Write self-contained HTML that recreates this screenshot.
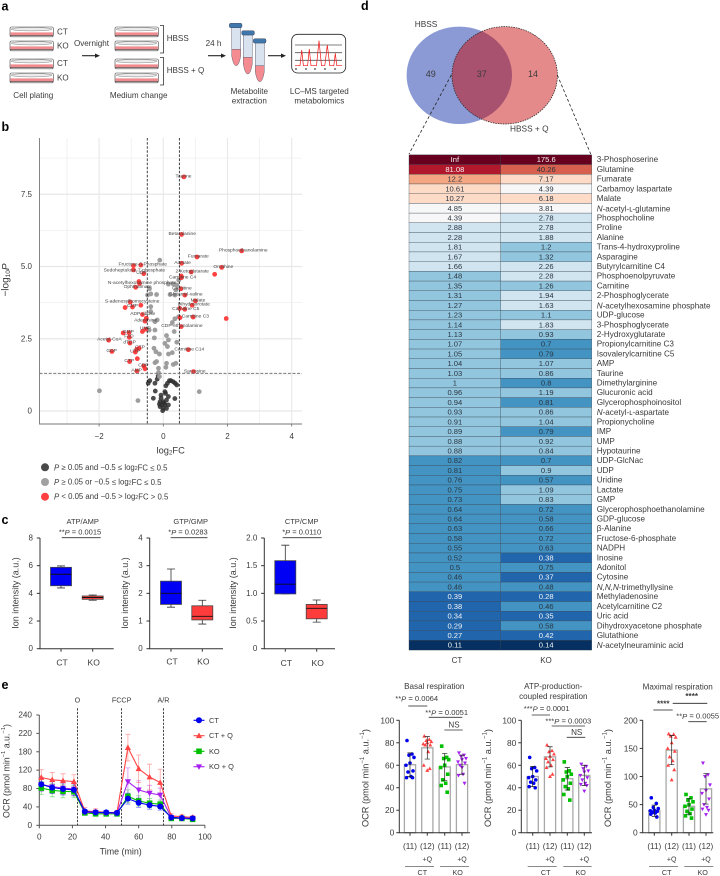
<!DOCTYPE html>
<html lang="en">
<head>
<meta charset="utf-8">
<title>Metabolomics figure</title>
<style>
html,body{margin:0;padding:0;background:#fff;}
svg{display:block;font-family:"Liberation Sans",sans-serif;}
text{dominant-baseline:central;fill:#3a3a3a;}
.b{font-weight:bold;font-size:12.5px;fill:#000;}
.t{font-size:8.1px;}
.l{font-size:7.8px;}
.h{font-size:7.5px;}
.p{font-size:7.6px;}
.c{text-anchor:middle;}
</style>
</head>
<body>
<svg id="fig" xmlns="http://www.w3.org/2000/svg" width="720" height="876" viewBox="0 0 720 876">
<rect width="720" height="876" fill="#fff"/>

<text class="b" x="1.5" y="6.5">a</text>
<text class="b" x="1.5" y="127">b</text>
<text class="b" x="1.5" y="520">c</text>
<text class="b" x="361" y="6">d</text>
<text class="b" x="1.5" y="685">e</text>

<g id="panelA">
  <text class="t" x="57" y="32">CT</text>
  <text class="t" x="57" y="46">KO</text>
  <text class="t" x="57" y="63.5">CT</text>
  <text class="t" x="57" y="78">KO</text>
  <text class="t c" x="91.5" y="43.7">Overnight</text>
  <path d="M82 55.7H97" stroke="#222" stroke-width="1.1"/>
  <path d="M95 53.5L100 55.7L95 57.9Z" fill="#222"/>
  <path d="M160 25.5H163.5V53H160M160 57.5H163.5V85H160" fill="none" stroke="#333" stroke-width=".8"/>
  <text class="t" x="166.7" y="38.3">HBSS</text>
  <text class="t" x="166.7" y="70.3">HBSS + Q</text>
  <text class="t c" x="213.5" y="43.7">24 h</text>
  <path d="M208 55.7H223" stroke="#222" stroke-width="1.1"/>
  <path d="M221 53.5L226 55.7L221 57.9Z" fill="#222"/>
  <path d="M268 55.7H283" stroke="#222" stroke-width="1.1"/>
  <path d="M281 53.5L286 55.7L281 57.9Z" fill="#222"/>

  <g>
    <path d="M231.7 26H240.7V49.3H231.7Z" fill="#d9e3f0" stroke="#667" stroke-width=".5"/>
    <path d="M231.7 49.3H240.7V56Q239 65.7 236.2 65.7Q233.4 65.7 231.7 56Z" fill="#f48b90" stroke="#667" stroke-width=".5"/>
    <rect x="229.3" y="23.3" width="12.7" height="4.4" rx="1.5" fill="#3f77ad" stroke="#334" stroke-width=".4"/>
  </g>
  <g>
    <path d="M243.3 33H252.3V57.3H243.3Z" fill="#d9e3f0" stroke="#667" stroke-width=".5"/>
    <path d="M243.3 57.3H252.3V64Q250.6 74 247.8 74Q245 74 243.3 64Z" fill="#f48b90" stroke="#667" stroke-width=".5"/>
    <rect x="241.7" y="30.7" width="12.7" height="4.4" rx="1.5" fill="#3f77ad" stroke="#334" stroke-width=".4"/>
  </g>
  <g>
    <path d="M255.3 41H264.3V65.7H255.3Z" fill="#d9e3f0" stroke="#667" stroke-width=".5"/>
    <path d="M255.3 65.7H264.3V72Q262.6 81.7 259.8 81.7Q257 81.7 255.3 72Z" fill="#f48b90" stroke="#667" stroke-width=".5"/>
    <rect x="253.3" y="38.7" width="12.7" height="4.4" rx="1.5" fill="#3f77ad" stroke="#334" stroke-width=".4"/>
  </g>

  <g>
    <rect x="291.7" y="34.3" width="54" height="38.7" rx="6" fill="#fff" stroke="#222" stroke-width=".8"/>
    <path d="M295 45H342M295 52.7H342M295 60.3H342" stroke="#555" stroke-width=".8"/>
    <path d="M295 65.7H300L301.7 50L303.4 65.7H307.6L309.3 49L311 65.7H316.5L319 40.7L321.5 65.7H324.8L327.3 45L329.8 65.7H333.8L335.3 53.3L336.8 65.7H342" fill="none" stroke="#f01818" stroke-width=".7"/>
    <path d="M295 69H297M305 69H307M314 69H316M324 69H326M334 69H336" stroke="#222" stroke-width=".9"/>
  </g>

  <text class="t c" x="33.3" y="95.7">Cell plating</text>
  <text class="t c" x="138.7" y="95.7">Medium change</text>
  <text class="t c" x="249.3" y="91.7">Metabolite</text>
  <text class="t c" x="249.3" y="101">extraction</text>
  <text class="t c" x="319.3" y="91.7">LC–MS targeted</text>
  <text class="t c" x="319.3" y="101">metabolomics</text>
</g>

<g>
  <text class="c" font-size="10" transform="translate(6 280) rotate(-90)">−log<tspan font-size="6.5" dy="2">10</tspan><tspan font-style="italic" dy="-2">P</tspan></text>
  <text class="c" font-size="9.3" x="170.7" y="450.7">log<tspan font-size="6.2" dy="2">2</tspan><tspan dy="-2">FC</tspan></text>
  <circle cx="45" cy="467.3" r="4" fill="#4a4a4a"/>
  <text class="l" x="54" y="467.3"><tspan font-style="italic">P</tspan> ≥ 0.05 and −0.5 ≤ log<tspan font-size="5.2" dy="1.5">2</tspan><tspan dy="-1.5">FC ≤ 0.5</tspan></text>
  <circle cx="45" cy="482" r="4" fill="#a0a0a0"/>
  <text class="l" x="54" y="482"><tspan font-style="italic">P</tspan> ≥ 0.05 or −0.5 ≤ log<tspan font-size="5.2" dy="1.5">2</tspan><tspan dy="-1.5">FC ≤ 0.5</tspan></text>
  <circle cx="45" cy="496.7" r="4" fill="#ff4040"/>
  <text class="l" x="54" y="496.7"><tspan font-style="italic">P</tspan> &lt; 0.05 and −0.5 &gt; log<tspan font-size="5.2" dy="1.5">2</tspan><tspan dy="-1.5">FC &gt; 0.5</tspan></text>
</g>

<g>
  <text class="h c" x="82.7" y="521.7">ATP/AMP</text>
  <text class="h c" x="80" y="532">**<tspan font-style="italic">P</tspan> = 0.0015</text>
  <path d="M61.7 537.7H100.7" stroke="#333" stroke-width=".8"/>
  <text class="h c" x="190.7" y="521.7">GTP/GMP</text>
  <text class="h c" x="188" y="532">*<tspan font-style="italic">P</tspan> = 0.0283</text>
  <path d="M170.7 537.7H207.5" stroke="#333" stroke-width=".8"/>
  <text class="h c" x="301.7" y="521.7">CTP/CMP</text>
  <text class="h c" x="301.7" y="532">*<tspan font-style="italic">P</tspan> = 0.0110</text>
  <path d="M282.7 537.7H321.7" stroke="#333" stroke-width=".8"/>
  <text class="c" font-size="9" transform="translate(15.7 593) rotate(-90)">Ion intensity (a.u.)</text>
  <text class="c" font-size="9" transform="translate(125 593) rotate(-90)">Ion intensity (a.u.)</text>
  <text class="c" font-size="9" transform="translate(233 593) rotate(-90)">Ion intensity (a.u.)</text>
</g>

<g>
  <ellipse cx="459.3" cy="75.3" rx="52.7" ry="48.7" fill="#8b9ad4"/>
  <ellipse cx="504.7" cy="75.3" rx="52.7" ry="48.7" fill="#e58a8a"/>
  <clipPath id="vennClip"><ellipse cx="459.3" cy="75.3" rx="52.7" ry="48.7"/></clipPath>
  <ellipse cx="504.7" cy="75.3" rx="52.7" ry="48.7" fill="#a95270" clip-path="url(#vennClip)"/>
  <ellipse cx="504.7" cy="75.3" rx="52.7" ry="48.7" fill="none" stroke="#222" stroke-width=".7" stroke-dasharray="1.5 1"/>
  <text class="c" font-size="8.3" x="426" y="24">HBSS</text>
  <text class="c" font-size="9" x="430.7" y="74">49</text>
  <text class="c" font-size="9" x="481.7" y="74">37</text>
  <text class="c" font-size="9" x="533" y="74">14</text>
  <text class="c" font-size="8.3" x="529.3" y="128.3">HBSS + Q</text>
  <path d="M451.3 75L409 154M557.3 75L590.7 154" stroke="#222" stroke-width=".8" stroke-dasharray="3 2.2" fill="none"/>
</g>

<g>
  <text class="t c" x="434.3" y="686.7">Basal respiration</text>
  <text class="p c" x="416.7" y="698.3">**<tspan font-style="italic">P</tspan> = 0.0064</text>
  <path d="M408.3 706H427.3" stroke="#555"/>
  <text class="p c" x="446.7" y="712.7">**<tspan font-style="italic">P</tspan> = 0.0051</text>
  <path d="M428.7 717.3H462.3" stroke="#333" stroke-width=".8"/>
  <text class="t c" x="454" y="725">NS</text>
  <path d="M444.3 730H462.7" stroke="#333" stroke-width=".8"/>

  <text class="t c" x="553.3" y="686.7">ATP-production-</text>
  <text class="t c" x="553.3" y="696.7">coupled respiration</text>
  <text class="p c" x="546.7" y="708.3">***<tspan font-style="italic">P</tspan> = 0.0001</text>
  <path d="M531.7 715H550" stroke="#333" stroke-width=".8"/>
  <text class="p c" x="568.3" y="721">***<tspan font-style="italic">P</tspan> = 0.0003</text>
  <path d="M551.7 726H585" stroke="#333" stroke-width=".8"/>
  <text class="t c" x="576.7" y="732.3">NS</text>
  <path d="M566.7 737.3H585.3" stroke="#333" stroke-width=".8"/>

  <text class="t c" x="677.7" y="687">Maximal respiration</text>
  <text class="t c" x="691.7" y="696.7" font-weight="bold">****</text>
  <path d="M672.7 703.3H707.3" stroke="#222" stroke-width=".8"/>
  <text class="t c" x="663.3" y="704" font-weight="bold">****</text>
  <path d="M653.3 710H672.7" stroke="#555"/>
  <text class="p c" x="697.7" y="716">**<tspan font-style="italic">P</tspan> = 0.0055</text>
  <path d="M688.3 721.7H706.7" stroke="#333" stroke-width=".8"/>

  <text class="c" font-size="9.2" transform="translate(365.7 778) rotate(-90)">OCR (pmol min<tspan font-size="6" dy="-2.5">−1</tspan><tspan dy="2.5"> a.u.</tspan><tspan font-size="6" dy="-2.5">−1</tspan><tspan dy="2.5">)</tspan></text>
  <text class="c" font-size="9.2" transform="translate(488 778) rotate(-90)">OCR (pmol min<tspan font-size="6" dy="-2.5">−1</tspan><tspan dy="2.5"> a.u.</tspan><tspan font-size="6" dy="-2.5">−1</tspan><tspan dy="2.5">)</tspan></text>
  <text class="c" font-size="9.2" transform="translate(608 778) rotate(-90)">OCR (pmol min<tspan font-size="6" dy="-2.5">−1</tspan><tspan dy="2.5"> a.u.</tspan><tspan font-size="6" dy="-2.5">−1</tspan><tspan dy="2.5">)</tspan></text>
  <text class="c" font-size="8.8" transform="translate(6.5 771) rotate(-90)">OCR (pmol min<tspan font-size="5.8" dy="-2.5">−1</tspan><tspan dy="2.5"> a.u.</tspan><tspan font-size="5.8" dy="-2.5">−1</tspan><tspan dy="2.5">)</tspan></text>
  <text class="c" font-size="8.9" x="120.7" y="851.7">Time (min)</text>
</g>
</svg>

<script>
// ---------- volcano data ----------
const redFC = [.64,.57,2.44,1.05,.57,1.82,.87,1.6,.56,.56,.55,.67,1.0,.9,.67,.51,.93,.52,1.96,.56,.78,.94,-.93,-.7,-.93,-.61,-.76,-.74,-.86,-1.03,-.7,-.96,-1.19,-.65,-.53,-.57,-.55,-.65,-1.07,-1.25,-1.06,-1.7,-1.04,-.75,-.83,-.87,-1.6,-.81,-1.05,-.61,-.57,-.82];
const redP = [8.1,6.11,5.54,5.33,5.11,4.97,4.81,4.73,4.67,4.61,4.23,4.01,3.81,3.66,3.52,3.55,3.25,3.23,3.2,2.92,2.12,1.36,5.03,5.05,4.88,4.75,4.48,4.41,4.28,3.77,3.66,3.6,3.58,3.34,3.21,3.11,2.83,2.75,2.71,2.7,2.55,2.45,2.35,2.17,2.13,2.04,2.06,1.81,1.71,1.56,1.46,1.38];
const grayFC = [-.11,-.43,-.49,-.39,-.21,.21,.36,.16,.31,.42,.48,.39,-.39,-.39,-.19,-.26,.28,.36,.48,-.44,-.26,.34,-.28,.1,.16,.42,.05,.13,-.29,-.23,-.12,.16,.28,-.21,-.26,.1,.31,.39,.08,-.15,-.15,-.12,-1.99,1.12,-.79];
const grayP = [5.22,4.23,4.01,4.05,4.03,4.03,4.01,4.39,4.39,4.36,4.53,4.19,3.61,3.44,3.15,3.09,3.06,3.19,3.26,2.8,2.8,2.75,2.53,2.61,2.46,2.38,2.34,2.23,2.17,2.05,1.97,1.97,2.02,1.71,1.67,1.65,1.61,1.65,1.51,1.48,1.33,1.19,.7,.67,.36];
const blackFC = [-.16,-.19,-.42,-.47,-.26,.19,.31,.08,.42,-.25,.05,-.07,.07,-.31,.16,.36,-.1,0,.1,-.12,-.05,.05,.16,-.1,0,.1,-.02,.03,-.07,.24,.37,.13];
const blackP = [1.21,1.1,1.05,.96,.96,1.05,1.01,.87,.9,.69,.67,.55,.61,.44,.5,.43,.32,.32,.38,.24,.21,.21,.21,.15,.09,.09,.01,.27,.44,1.05,.96,.96];
const volcanoNames = ['Taurine','Beta-alanine','Phosphoethanolamine','Fumarate','Acetate','Ornithine','2-Ketoglutarate','Carnitine C4','Carnitine','Glutamyl-valine','Malate','Dihydroorotate','Carnitine C5','Carnitine C3','CDP-ethanolamine','Carnitine C14','Sarcosine','Fructose-6-Phosphate','Sedoheptulose-7-phosphate','UDP','N-acetylhexosamine phosphate','Ophthalmate','S-adenosylhomocysteine','CMP','ADP-ribose','Adenosine','UMP','GMP','FAD','dTDP','Acetyl-CoA','GTP','UTP','GDP','CTP','CDP','AMP'];
const volcanoLabelFC = [.63,.59,2.49,1.09,.6,1.87,.9,.6,.58,.7,1.08,.95,.7,1.0,.58,.81,.98,-.64,-.9,-.68,-.66,-.8,-.97,-.96,-.64,-.55,-.56,-1.09,-1.07,-1.05,-1.68,-.73,-.88,-1.61,-1.06,-.62,-.83];
const volcanoLabelP = [8.1,6.11,5.54,5.33,5.11,4.96,4.81,4.61,4.23,4.01,3.81,3.66,3.52,3.25,2.92,2.11,1.35,5.05,4.85,4.75,4.41,4.27,3.77,3.62,3.34,3.11,2.83,2.71,2.56,2.35,2.45,2.18,2.04,2.06,1.71,1.56,1.38];
const volcanoXTicks = [-2,0,2,4];
const volcanoXMinor = [-3,-1,1,3];
const volcanoYTicks = [0,2.5,5,7.5];
const volcanoYTickLabels = ['0','2.5','5.0','7.5'];
const volcanoYMinor = [1.25,3.75,6.25,8.75];

// ---------- box plot data (CT, KO) ----------
const boxCategories = ['CT','KO'];
const atpQ1 = [4.55,3.57], atpMed = [5.38,3.7], atpQ3 = [5.88,3.81], atpHi = [5.98,3.88], atpLo = [4.39,3.5];
const gtpQ1 = [1.6,1.04], gtpMed = [2.0,1.17], gtpQ3 = [2.44,1.55], gtpHi = [2.88,1.75], gtpLo = [1.5,.89];
const ctpQ1 = [.99,.54], ctpMed = [1.165,.73], ctpQ3 = [1.59,.80], ctpHi = [1.87,.88], ctpLo = [.99,.48];
const atpTicks = [0,2,4,6,8];
const gtpTicks = [0,1,2,3,4];
const ctpTicks = ['0','0.5','1.0','1.5','2.0'];

// ---------- heatmap data ----------
const metaboliteNames = ['3-Phosphoserine','Glutamine','Fumarate','Carbamoy laspartate','Malate','N-acetyl-ʟ-glutamine','Phosphocholine','Proline','Alanine','Trans-4-hydroxyproline','Asparagine','Butyrylcarnitine C4','Phosphoenolpyruvate','Carnitine','2-Phosphoglycerate','N-acetylhexosamine phosphate','UDP-glucose','3-Phosphoglycerate','2-Hydroxyglutarate','Propionylcarnitine C3','Isovalerylcarnitine C5','AMP','Taurine','Dimethylarginine','Glucuronic acid','Glycerophosphoinositol','N-acetyl-ʟ-aspartate','Propionycholine','IMP','UMP','Hypotaurine','UDP-GlcNac','UDP','Uridine','Lactate','GMP','Glycerophosphoethanolamine','GDP-glucose','β-Alanine','Fructose-6-phosphate','NADPH','Inosine','Adonitol','Cytosine','N,N,N-trimethyllysine','Methyladenosine','Acetylcarnitine C2','Uric acid','Dihydroxyacetone phosphate','Glutathione','N-acetylneuraminic acid'];
const heatCT = ['Inf','81.08','12.2','10.61','10.27','4.85','4.39','2.88','2.28','1.81','1.67','1.66','1.48','1.35','1.31','1.27','1.23','1.14','1.13','1.07','1.05','1.04','1.03','1','0.96','0.94','0.93','0.91','0.89','0.88','0.88','0.82','0.81','0.76','0.75','0.73','0.64','0.64','0.63','0.58','0.55','0.52','0.5','0.46','0.46','0.39','0.38','0.34','0.29','0.27','0.11'];
const heatKO = ['175.6','40.26','7.17','4.39','6.18','3.81','2.78','2.78','1.88','1.2','1.32','2.26','2.28','1.26','1.94','1.63','1.1','1.83','0.93','0.7','0.79','1.07','0.86','0.8','1.19','0.81','0.86','1.04','0.79','0.92','0.84','0.7','0.9','0.57','1.09','0.83','0.72','0.58','0.66','0.72','0.63','0.38','0.75','0.37','0.48','0.28','0.46','0.35','0.58','0.42','0.14'];

// ---------- seahorse data ----------
const timeMin = [1.2,7.8,14.3,20.9,27.5,34,40.4,46.9,53.5,60,66.6,73,79.7,86.1,92.6];
const ocrCT = [89,82,79,77,30,28,28,27,58,49,44,41,17,16,15];
const ocrCTQ = [104,99,97,95,31,30,28,28,169,123,105,93,20,19,17];
const ocrKO = [81,76,74,73,27,25,25,25,63,53,48,46,15,15,13];
const ocrKOQ = [89,84,81,79,28,28,27,26,95,77,70,66,17,15,15];
const errCT = [13,13,13,13,4,4,3,3,12,10,9,8,4,3,3];
const errCTQ = [17,16,15,15,8,6,4,4,29,30,28,29,5,4,4];
const errKO = [14,14,14,13,4,4,3,3,14,11,10,9,3,3,3];
const errKOQ = [15,14,14,14,5,5,3,3,30,20,17,15,4,3,3];
const ocrYTicks = [0,40,80,120,160,200,240];
const ocrYTickLabels = ['0','40','80','120','180','220','240'];
const ocrXTicks = [0,20,40,60,80,100];
const injectionTimes = [23,49.7,75];
const injectionNames = ['O','FCCP','A/R'];
const ocrSeriesNames = ['CT','CT + Q','KO','KO + Q'];

// ---------- respiration bars ----------
const barCounts = ['(11)','(12)','(11)','(12)'];
const basalMean = [60.5,75.5,58.5,60.5], basalSD = [10.5,10,12,8.5];
const basalCT = [82,70,69,67,62,60,55,54,50,49,49];
const basalCTQ = [86,83,82,81,80,79,78,78,72,60,57,55.5];
const basalKO = [77,67,66,65,60,58,52,47,44,42,36];
const basalKOQ = [71,69,68,66,65,63,62,60,52,51,44,58];
const atpMean = [50,67.5,48,51], atpSD = [9,9,10,9];
const atpCT = [67,58,57,55,50,49,47,45,44,41,40];
const atpCTQ = [78,73,72,70,68,66,65,63,60,58,52,50];
const atpKO = [63,55,54,52,50,47,44,41,39,34,29];
const atpKOQ = [61,59,57,55,54,51,49,47,44,43,42,37];
const maxMean = [39,147,47,78], maxSD = [10,26,14,27];
const maxCT = [62,52,45,43,40,39,38,36,35,33,28];
const maxCTQ = [176,175,172,170,160,150,145,135,128,120,112,94];
const maxKO = [68,62,58,55,50,47,42,38,34,30,26];
const maxKOQ = [124,103,100,85,75,70,60,50,45,42,40,32];
const pctTicks = [0,20,40,60,80,100];
const maxTicks = [0,50,100,150,200];

// ---------- helpers ----------
const svg = document.getElementById('fig');
const NS = 'http://www.w3.org/2000/svg';
function add(parent, tag, attrs) {
  const e = document.createElementNS(NS, tag);
  for (const k in attrs) e.setAttribute(k, attrs[k]);
  parent.appendChild(e);
  return e;
}
function line(parent, x1, y1, x2, y2, stroke, w, dash) {
  const a = {x1:x1, y1:y1, x2:x2, y2:y2, stroke:stroke, 'stroke-width':w};
  if (dash) a['stroke-dasharray'] = dash;
  return add(parent, 'line', a);
}
function label(parent, x, y, s, size, anchor, fill) {
  const e = add(parent, 'text', {x:x, y:y, 'font-size':size, 'text-anchor':anchor || 'start'});
  if (fill) e.style.fill = fill;
  e.textContent = s;
  return e;
}
function marker(parent, shape, x, y, r, fill, op) {
  let e;
  if (shape === 'circle') e = add(parent, 'circle', {cx:x, cy:y, r:r, fill:fill});
  else if (shape === 'square') e = add(parent, 'rect', {x:x-r, y:y-r, width:2*r, height:2*r, fill:fill});
  else if (shape === 'up') e = add(parent, 'polygon', {points:`${x},${y-r*1.15} ${x+r*1.1},${y+r*.85} ${x-r*1.1},${y+r*.85}`, fill:fill});
  else e = add(parent, 'polygon', {points:`${x},${y+r*1.15} ${x+r*1.1},${y-r*.85} ${x-r*1.1},${y-r*.85}`, fill:fill});
  if (op) e.setAttribute('opacity', op);
  return e;
}

// ---------- volcano ----------
(function () {
  const vx = v => 163.3 + 32.1 * v;
  const vy = p => 411 - 28.9 * p;
  const g = add(svg, 'g', {});
  
  
  volcanoXMinor.forEach(v => {
    const l = line(g, vx(v), 138, vx(v), 424, '#efefef', .8);
    
    
  });
  volcanoXTicks.forEach(v => {
    const l = line(g, vx(v), 138, vx(v), 424, '#e8e8e8', 1.1);
    
    
    const t = line(g, vx(v), 424, vx(v), 426.5, '#666', .8);
    
    
    const s = label(g, vx(v), 436.7, (v < 0 ? '−' : '') + Math.abs(v), 8, 'middle');
    
    
  });
  volcanoYMinor.forEach(v => {
    const l = line(g, 39.5, vy(v), 302, vy(v), '#efefef', .8);
    
    
  });
  volcanoYTicks.forEach((v, i) => {
    const l = line(g, 39.5, vy(v), 302, vy(v), '#e8e8e8', 1.2);
    
    
    const s = label(g, 32, vy(v), volcanoYTickLabels[i], 8, 'end');
    
    
  });
  const ax = add(g, 'path', {d:'M39.5 138V424H302', fill:'none', stroke:'#777', 'stroke-width':.9});
  
  
  blackFC.forEach((v, i) => {
    const c = add(g, 'circle', {cx:vx(v), cy:vy(blackP[i]), r:2.4, fill:'#2e2e2e', opacity:.85});
    
    
  });
  grayFC.forEach((v, i) => {
    const c = add(g, 'circle', {cx:vx(v), cy:vy(grayP[i]), r:2.4, fill:'#999', opacity:.95});
    
    
  });
  redFC.forEach((v, i) => {
    const c = add(g, 'circle', {cx:vx(v), cy:vy(redP[i]), r:2.4, fill:'#ff2e2e', opacity:.9});
    
    
  });
  [-.5, .5].forEach(v => {
    const l = line(g, vx(v), 138, vx(v), 424, '#111', .8, '2.5 1.6');
    
    
  });
  const pl = line(g, 39.5, vy(1.3), 302, vy(1.3), '#777', 1, '3 1.6');
  
  
  volcanoNames.forEach((n, i) => {
    const s = label(g, vx(volcanoLabelFC[i]), vy(volcanoLabelP[i]), n, 4.9, 'middle', '#444');
    
    
  });
})();

// ---------- box plots ----------
(function () {
  const y0 = 648.7, yTop = 538;
  const panels = [
    {ax:40, right:113.7, xs:[61,92.7], max:8, ticks:atpTicks, q1:atpQ1, med:atpMed, q3:atpQ3, hi:atpHi, lo:atpLo, ly:662.7},
    {ax:149.7, right:223, xs:[171,202.3], max:4, ticks:gtpTicks, q1:gtpQ1, med:gtpMed, q3:gtpQ3, hi:gtpHi, lo:gtpLo, ly:661.5},
    {ax:264.3, right:335, xs:[285.3,316.7], max:2, ticks:ctpTicks, q1:ctpQ1, med:ctpMed, q3:ctpQ3, hi:ctpHi, lo:ctpLo, ly:663}
  ];
  const fills = ['#0000f5', '#ff3c3c'];
  panels.forEach(p => {
    const y = v => y0 - (y0 - yTop) * v / p.max;
    const g = add(svg, 'g', {});
    
    
    const a = add(g, 'path', {d:`M${p.ax} ${yTop}V${y0}H${p.right}`, fill:'none', stroke:'#333', 'stroke-width':1});
    
    
    p.ticks.forEach(v => {
      const t = line(g, p.ax - 3.2, y(+v), p.ax, y(+v), '#333', 1);
      
      
      const s = label(g, p.ax - 7, y(+v), String(v), 8, 'end');
      
      
    });
    boxCategories.forEach((c, i) => {
      const x = p.xs[i], w = 10.5;
      const t = line(g, x, y0, x, y0 + 3, '#333', 1);
      
      
      const s = label(g, x + 1, p.ly, c, 8.5, 'middle');
      
      
      const wh = add(g, 'path', {d:`M${x} ${y(p.lo[i])}V${y(p.hi[i])}M${x-4} ${y(p.hi[i])}H${x+4}M${x-4} ${y(p.lo[i])}H${x+4}`, stroke:'#333', 'stroke-width':.8, fill:'none'});
      
      
      const b = add(g, 'rect', {x:x - w, y:y(p.q3[i]), width:2 * w, height:y(p.q1[i]) - y(p.q3[i]), fill:fills[i], stroke:'#444', 'stroke-width':.8});
      
      
      const m = line(g, x - w, y(p.med[i]), x + w, y(p.med[i]), '#111', .9);
      
      
    });
  });
})();

// ---------- heatmap ----------
(function () {
  const top = 154.85, pitch = 9.71, cols = [409, 500.7, 591.7];
  function color(s) {
    if (s === 'Inf') return '#67001f';
    const v = parseFloat(s);
    if (v >= 100) return '#67001f';
    if (v >= 60) return '#b2182b';
    if (v >= 20) return '#d6604d';
    if (v >= 11) return '#f4a582';
    if (v >= 5) return '#fddbc7';
    if (v >= 3) return '#f7f7f7';
    if (v >= 1.5) return '#d1e5f0';
    if (v >= .825) return '#92c5de';
    if (v >= .45) return '#4393c3';
    if (v >= .2) return '#2166ac';
    return '#053061';
  }
  function ink(s) {
    const v = s === 'Inf' ? 999 : parseFloat(s);
    return (v >= 60 || v < .45) ? '#f4f4f4' : '#2b3640';
  }
  const g = add(svg, 'g', {});
  
  
  [heatCT, heatKO].forEach((vals, c) => {
    vals.forEach((v, i) => {
      const r = add(g, 'rect', {x:cols[c], y:top + i * pitch, width:cols[c + 1] - cols[c], height:pitch, fill:color(v), stroke:'#3a4753', 'stroke-width':.35});
      
      
      const s = label(g, (cols[c] + cols[c + 1]) / 2, top + (i + .5) * pitch, v, 7.6, 'middle', ink(v));
      
      
    });
  });
  metaboliteNames.forEach((n, i) => {
    const s = label(g, 596.7, top + (i + .5) * pitch, '', 8.15, 'start');
    
    
    const m = n.match(/^((?:N,)*N)(-.*)$/);
    if (m) {
      const it = add(s, 'tspan', {'font-style':'italic'});
      it.textContent = m[1];
      const rest = add(s, 'tspan', {});
      rest.textContent = m[2];
    } else {
      s.textContent = n;
    }
  });
  const a = label(g, 457, 660.7, 'CT', 8, 'middle');
  
  
  const b = label(g, 546, 660.7, 'KO', 8, 'middle');
  
  
})();

// ---------- seahorse time course ----------
(function () {
  const x = t => 39.3 + 1.656 * t;
  const y = v => 825.3 - .4596 * v;
  const g = add(svg, 'g', {});
  
  
  const series = [
    {name:ocrSeriesNames[2], vals:ocrKO, err:errKO, color:'#00c000', shape:'square', r:2.8, ly:751.3},
    {name:ocrSeriesNames[3], vals:ocrKOQ, err:errKOQ, color:'#a520f0', shape:'down', r:2.8, ly:766.7},
    {name:ocrSeriesNames[1], vals:ocrCTQ, err:errCTQ, color:'#ff4545', shape:'up', r:2.8, ly:735.7},
    {name:ocrSeriesNames[0], vals:ocrCT, err:errCT, color:'#0000f0', shape:'circle', r:3, ly:720.3}
  ];
  const a = add(g, 'path', {d:'M39.3 715V825.3H205', fill:'none', stroke:'#555', 'stroke-width':1});
  
  
  ocrYTicks.forEach((v, i) => {
    const t = line(g, 36.3, y(v), 39.3, y(v), '#555', 1);
    
    
    const s = label(g, 32, y(v), ocrYTickLabels[i], 8.2, 'end');
    
    
  });
  ocrXTicks.forEach(v => {
    const t = line(g, x(v), 825.3, x(v), 828.3, '#555', 1);
    
    
    const s = label(g, x(v), 837, String(v), 8.2, 'middle');
    
    
  });
  injectionTimes.forEach((v, i) => {
    const l = line(g, x(v), 708.3, x(v), 825.3, '#111', .8, '2.2 1.4');
    
    
    const s = label(g, x(v), 700, injectionNames[i], 7.2, 'middle');
    
    
  });
  series.forEach(s => {
    s.vals.forEach((v, i) => {
      const e = add(g, 'path', {d:`M${x(timeMin[i])} ${y(v - s.err[i])}V${y(v + s.err[i])}M${x(timeMin[i]) - 2.5} ${y(v + s.err[i])}h5M${x(timeMin[i]) - 2.5} ${y(v - s.err[i])}h5`, stroke:s.color, 'stroke-width':.8, opacity:.5, fill:'none'});
      
      
    });
  });
  series.forEach(s => {
    const p = add(g, 'polyline', {points:s.vals.map((v, i) => x(timeMin[i]) + ',' + y(v)).join(' '), fill:'none', stroke:s.color, 'stroke-width':1.1});
    
    
    s.vals.forEach((v, i) => {
      const m = marker(g, s.shape, x(timeMin[i]), y(v), s.r, s.color);
      
      
    });
    const ll = line(g, 193.5, s.ly, 204.5, s.ly, s.color, 1.1);
    
    
    const lm = marker(g, s.shape, 199, s.ly, s.r, s.color);
    
    
    const lt = label(g, 209, s.ly, s.name, 7.4, 'start');
    
    
  });
})();

// ---------- respiration bars ----------
(function () {
  const y0 = 832.7, yTop = 720.3;
  const groupColors = ['#0000f0', '#ff4545', '#00c000', '#a520f0'];
  const groupShapes = ['circle', 'up', 'square', 'down'];
  const wig = [-3, 2, -1, 4, 0, -4, 3, -2, 1, -3.5, 2.5, 0];
  const charts = [
    {ax:399.3, right:470, xs:[410,427.3,444.7,462], max:100, ticks:pctTicks, mean:basalMean, sd:basalSD, pts:[basalCT,basalCTQ,basalKO,basalKOQ], g1:[405,434], g2:[440,469], ct:422.3, ko:457.7},
    {ax:521.3, right:592, xs:[532.7,550,567.3,584.3], max:100, ticks:pctTicks, mean:atpMean, sd:atpSD, pts:[atpCT,atpCTQ,atpKO,atpKOQ], g1:[527.7,556.7], g2:[563.3,591.7], ct:545.7, ko:580.7},
    {ax:642.7, right:713.3, xs:[654.3,671.7,689,706], max:200, ticks:maxTicks, mean:maxMean, sd:maxSD, pts:[maxCT,maxCTQ,maxKO,maxKOQ], g1:[649,678], g2:[684.3,713.3], ct:666.7, ko:702.7}
  ];
  charts.forEach(c => {
    const y = v => y0 - (y0 - yTop) * v / c.max;
    const g = add(svg, 'g', {});
    
    
    c.xs.forEach((x, i) => {
      const b = add(g, 'rect', {x:x - 5.6, y:y(c.mean[i]), width:11.2, height:y0 - y(c.mean[i]), fill:'#fff', stroke:'#a8a8a8', 'stroke-width':1.3});
      
      
    });
    const a = add(g, 'path', {d:`M${c.ax} ${yTop}V${y0}H${c.right}`, fill:'none', stroke:'#333', 'stroke-width':1});
    
    
    c.ticks.forEach(v => {
      const t = line(g, c.ax - 3, y(v), c.ax, y(v), '#333', 1);
      
      
      const s = label(g, c.ax - 5, y(v), String(v), 8.4, 'end');
      
      
    });
    c.xs.forEach((x, i) => {
      const t = line(g, x, y0, x, y0 + 3, '#333', 1);
      
      
      const n = label(g, x, 846.7, barCounts[i], 8.2, 'middle');
      
      
      c.pts[i].forEach((v, j) => {
        const m = marker(g, groupShapes[i], x + wig[j % 12], y(v), 1.8, groupColors[i]);
        
        
      });
      const hi = y(c.mean[i] + c.sd[i]), lo = y(c.mean[i] - c.sd[i]);
      const e = add(g, 'path', {d:`M${x} ${hi}V${lo}M${x - 2.6} ${hi}h5.2M${x - 2.6} ${lo}h5.2`, stroke:'#222', 'stroke-width':.7, fill:'none'});
      
      
    });
    [c.xs[1], c.xs[3]].forEach(x => {
      const q = label(g, x, 860, '+Q', 7, 'middle');
      
      
    });
    [c.g1, c.g2].forEach(r => {
      const u = line(g, r[0], 866.7, r[1], 866.7, '#444', .7);
      
      
    });
    const ct = label(g, c.ct, 872.7, 'CT', 7.2, 'middle');
    
    
    const ko = label(g, c.ko, 872.7, 'KO', 7.2, 'middle');
    
    
  });
})();

// ---------- culture dishes (panel a) ----------
(function () {
  const g = document.getElementById('panelA');
  const rows = [27, 41, 59, 73];
  [10, 115].forEach((x, col) => {
    rows.forEach((y, r) => {
      const d = add(g, 'g', {});
      
      
      add(d, 'rect', {x:x, y:y, width:43.3, height:9.8, rx:1.5, fill:'#fff', stroke:'#444', 'stroke-width':.6});
      add(d, 'ellipse', {cx:x + 21.6, cy:y + 2.2, rx:20.5, ry:1.7, fill:'#ececec', stroke:'#666', 'stroke-width':.4});
      add(d, 'rect', {x:x + .4, y:y + 5.4, width:42.5, height:3.2, fill:'#ef8a8e'});
      add(d, 'path', {d:`M${x} ${y + 8.6}H${x + 43.3}`, stroke:'#444', 'stroke-width':.6});
    });
  });
})();
</script>
</body>
</html>
